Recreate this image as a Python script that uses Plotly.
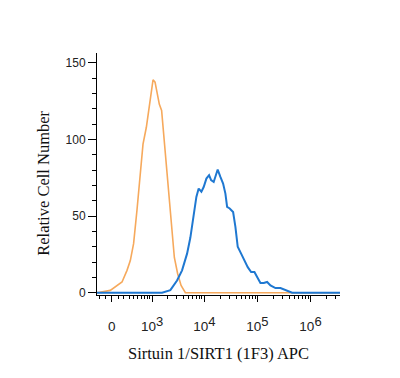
import numpy as np
import plotly.graph_objects as go

# ---- data (fluorescence intensity, relative cell number) ----
iso_intensity = [-244, -22, 166, 256, 322, 394, 477, 568, 651, 766, 853, 956, 1047, 1148,
                 1257, 1393, 1543, 1686, 1904, 2143, 2403, 2705, 3126, 3625, 4375,
                 10000, 100000, 1000000, 3600000]
iso_count = [0, 1.5, 7, 14.6, 21, 32, 54, 80, 97, 108, 119, 132, 139, 137.5,
             130, 123, 119, 104, 82, 60, 38.5, 23, 12.4, 4.8, 0,
             0, 0, 0, 0]

sirt_intensity = [-244, 1257, 1572, 2269, 3044, 3788, 4711, 5438, 6279, 7060, 7801, 8778,
                  9698, 10908, 12265, 13380, 14980, 16845, 17820, 20044, 22536, 24900,
                  26814, 30020, 34800, 38450, 42500, 49260, 56850, 65620, 76080, 87820,
                  98740, 113950, 131500, 152400, 176000, 218700, 271700, 337600, 451400,
                  647300, 3600000]
sirt_count = [0, 0, 0, 1.7, 8, 14.6, 25.5, 36, 52, 62.5, 68, 66,
              69, 74.5, 76.7, 73.5, 72.3, 79, 80.4, 75.6, 71.3, 64.7,
              56, 55, 52.7, 43, 30, 25.5, 21, 16.7, 13.5, 13.5,
              10.2, 6.3, 6.3, 7, 4.8, 3, 3, 1.5, 0,
              0, 0]

x_major_vals = [0, 1e3, 1e4, 1e5, 1e6]
x_major_text = ["0",
                "10<sup><span style='font-size:13px'>3</span></sup>",
                "10<sup><span style='font-size:13px'>4</span></sup>",
                "10<sup><span style='font-size:13px'>5</span></sup>",
                "10<sup><span style='font-size:13px'>6</span></sup>"]
y_major_vals = [0, 50, 100, 150]

# ---- biexponential-like display transform ----
C = 358.0
def T(v):
    return np.arcsinh(np.asarray(v, dtype=float) / C) / np.log(10)

minor_raw = [-200, -100] + [k * 100 for k in range(1, 10)]
for d in [1e3, 1e4, 1e5, 1e6]:
    minor_raw += [k * d for k in range(2, 10)]
minor_pos = [float(T(v)) for v in minor_raw if T(v) < T(3.6e6)]

ORANGE = "#F6A95C"
BLUE = "#1F78D1"

fig = go.Figure()
fig.add_trace(go.Scatter(x=T(iso_intensity), y=iso_count, mode="lines",
                         line=dict(color=ORANGE, width=1.6), hoverinfo="skip"))
fig.add_trace(go.Scatter(x=T(sirt_intensity), y=sirt_count, mode="lines",
                         line=dict(color=BLUE, width=2.0), hoverinfo="skip"))

fig.update_layout(
    width=400, height=378,
    margin=dict(l=89, r=68, t=45, b=91),
    paper_bgcolor="white", plot_bgcolor="white",
    showlegend=False,
    font=dict(family="Liberation Sans, Arial, sans-serif", color="#222"),
    xaxis=dict(
        range=[float(T(-244)), float(T(3.6e6))],
        tickmode="array",
        tickvals=[float(v) for v in T(x_major_vals)],
        ticktext=x_major_text,
        ticks="outside", ticklen=6, tickwidth=1, tickcolor="black",
        ticklabelstandoff=13,
        tickfont=dict(size=13.5, family="Liberation Sans, Arial, sans-serif", color="#222"),
        minor=dict(tickmode="array", tickvals=minor_pos, ticks="outside",
                   ticklen=3, tickwidth=1, tickcolor="black"),
        showline=True, linecolor="black", linewidth=1,
        showgrid=False, zeroline=False, fixedrange=True,
    ),
    yaxis=dict(
        range=[-1.5, 156.5],
        tickmode="array", tickvals=y_major_vals,
        ticks="outside", ticklen=8, tickwidth=1, tickcolor="black",
        tickfont=dict(size=12, family="Liberation Sans, Arial, sans-serif", color="#222"),
        minor=dict(tickmode="linear", tick0=0, dtick=10, ticks="outside",
                   ticklen=4, tickwidth=1, tickcolor="black"),
        showline=True, linecolor="black", linewidth=1,
        showgrid=False, zeroline=False, fixedrange=True,
    ),
    annotations=[
        dict(text="Sirtuin 1/SIRT1 (1F3) APC", xref="paper", yref="paper",
             x=0.5, y=-0.242, xanchor="center", yanchor="middle", showarrow=False,
             font=dict(family="Liberation Serif, Times New Roman, serif", size=16.5, color="#111")),
        dict(text="Relative Cell Number", xref="paper", yref="paper",
             x=-0.218, y=0.46, xanchor="center", yanchor="middle", showarrow=False,
             textangle=-90,
             font=dict(family="Liberation Serif, Times New Roman, serif", size=16.5, color="#111")),
    ],
)

fig.write_html("out.html")
